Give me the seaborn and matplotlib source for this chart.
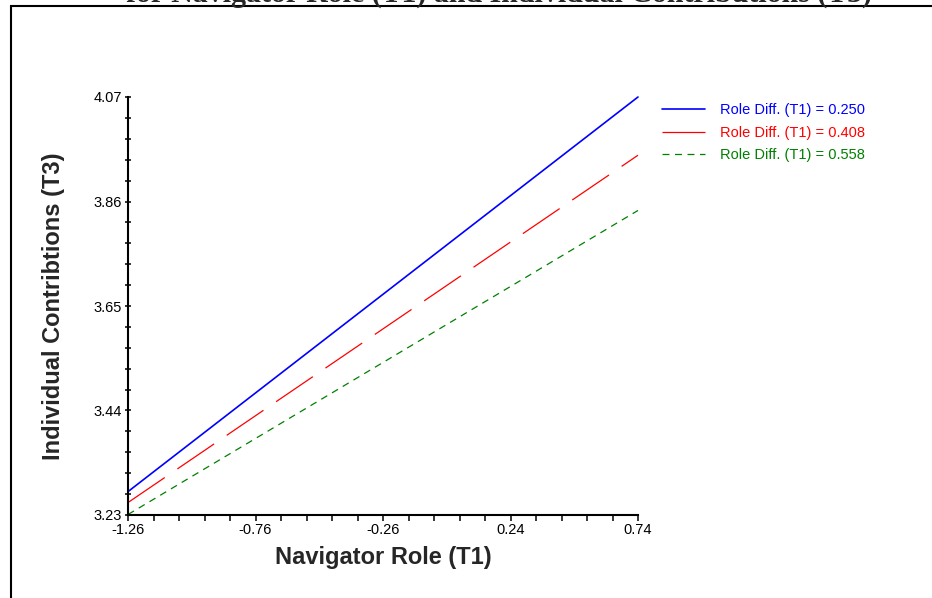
import matplotlib
matplotlib.use("Agg")
import matplotlib.pyplot as plt
from matplotlib.patches import Rectangle
from matplotlib.ticker import AutoMinorLocator
import pandas as pd
import seaborn as sns

# Simple slopes
x_vals = [-1.26, 0.74]
blue_y = [3.277, 4.070]
red_y = [3.255, 3.953]
green_y = [3.231, 3.842]
labels = ["Role Diff. (T1) = 0.250", "Role Diff. (T1) = 0.408", "Role Diff. (T1) = 0.558"]
colors = ["#0000ff", "#ff0000", "#008000"]

x_ticks = [-1.26, -0.76, -0.26, 0.24, 0.74]
y_ticks = [3.23, 3.44, 3.65, 3.86, 4.07]

rows = []
for lab, ys in zip(labels, [blue_y, red_y, green_y]):
    for x, y in zip(x_vals, ys):
        rows.append({"x": x, "y": y, "group": lab})
data = pd.DataFrame(rows)

sns.set_style("ticks")
plt.rcParams["font.family"] = ["Liberation Sans", "DejaVu Sans"]
plt.rcParams["lines.scale_dashes"] = False

fig = plt.figure(figsize=(9.32, 5.98), dpi=100)
ax = fig.add_axes([128 / 932, 1 - 515 / 598, 510 / 932, 418 / 598])

sns.lineplot(data=data, x="x", y="y", hue="group", style="group",
             palette=dict(zip(labels, colors)),
             dashes={labels[0]: "", labels[1]: (32, 11), labels[2]: (5, 4)},
             ax=ax, legend=False)
for line, lw in zip(ax.lines, [1.2, 0.9, 0.9]):
    line.set_linewidth(lw)
    line.set_clip_on(False)

ax.set_xlim(x_ticks[0], x_ticks[-1])
ax.set_ylim(y_ticks[0], y_ticks[-1])
ax.set_xticks(x_ticks)
ax.set_yticks(y_ticks)
ax.set_xticklabels([f"{v:.2f}" for v in x_ticks])
ax.set_yticklabels([f"{v:.2f}" for v in y_ticks])
ax.xaxis.set_minor_locator(AutoMinorLocator(5))
ax.yaxis.set_minor_locator(AutoMinorLocator(5))

sns.despine(ax=ax)
for s in ["left", "bottom"]:
    ax.spines[s].set_linewidth(1.5)
    ax.spines[s].set_color("black")
ax.tick_params(axis="x", which="both", direction="out", length=4, width=1.1,
               labelsize=10.5, pad=2, colors="black")
ax.tick_params(axis="y", which="both", direction="inout", length=5, width=1.1,
               labelsize=10.5, pad=2, colors="black")

ax.set_xlabel("Navigator Role (T1)", fontsize=17, fontweight="bold", labelpad=6)
ax.set_ylabel("Individual Contribtions (T3)", fontsize=17, fontweight="bold", labelpad=20)

# legend drawn to the right of the plot, text coloured like the lines
handles = ax.lines[:3]
leg = fig.legend(handles, labels, loc="upper left", bbox_to_anchor=(662 / 932, 1 - 103 / 598),
                 frameon=False, fontsize=10.5, handlelength=2.95, handletextpad=1.0,
                 labelspacing=0.6, borderpad=0, borderaxespad=0)
for txt, c in zip(leg.get_texts(), colors):
    txt.set_color(c)

# clipped title and outer frame
fig.text(499 / 932, 1 - 1.5 / 598, "for Navigator Role (T1) and Individual Contributions (T3)",
         ha="center", va="baseline", fontsize=21.5, fontweight="bold",
         family=["Liberation Serif", "DejaVu Serif"])
fig.add_artist(Rectangle((11 / 932, -0.05), 1.0, 1 - 6 / 598 + 0.05, transform=fig.transFigure,
                         fill=False, lw=1.5, edgecolor="black"))

fig.savefig("out.png", dpi=100)
